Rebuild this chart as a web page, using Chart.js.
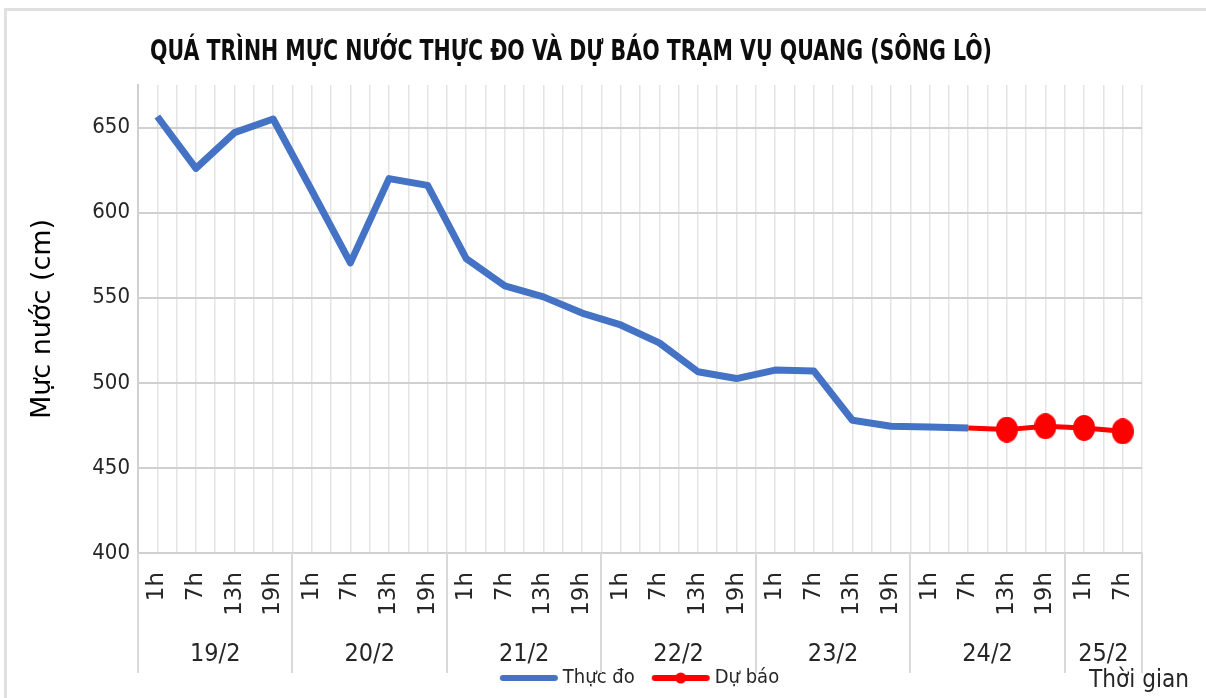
<!DOCTYPE html>
<html>
<head>
<meta charset="utf-8">
<script src="https://cdn.jsdelivr.net/npm/chart.js@4"></script>
<style>
  html, body { margin: 0; padding: 0; background: #fff; }
  canvas { display: block; }
</style>
</head>
<body>
<canvas id="mucNuocChart" width="1206" height="698"></canvas>
<script>
// nhan gio tren truc hoanh
var hourLabels = [
    '1h', '7h', '13h', '19h',
    '1h', '7h', '13h', '19h',
    '1h', '7h', '13h', '19h',
    '1h', '7h', '13h', '19h',
    '1h', '7h', '13h', '19h',
    '1h', '7h', '13h', '19h',
    '1h', '7h'
];
var dateLabels = ['19/2', '20/2', '21/2', '22/2', '23/2', '24/2', '25/2'];
var dateCounts = [4, 4, 4, 4, 4, 4, 2];

// muc nuoc thuc do (cm)
var thucDo = [656.5, 626, 647, 655, 613, 570.5, 620, 616, 573, 557, 550.5, 541,
              534, 523.5, 506.5, 502.5, 507.5, 507, 478, 474.5, 474, 473.5];
// muc nuoc du bao (cm), bat dau tu 7h 24/2
var duBao = [473.5, 472.5, 474.5, 473.5, 471.5];
var duBaoStart = 21;

var narrow = '"Liberation Sans Narrow", "DejaVu Sans Condensed", sans-serif';
var textColor = '#262626';

var thucDoData = hourLabels.map(function (_, i) { return i < thucDo.length ? thucDo[i] : null; });
var duBaoData = hourLabels.map(function (_, i) {
    return i >= duBaoStart && i - duBaoStart < duBao.length ? duBao[i - duBaoStart] : null;
});

function legendIcon(color, dot) {
    var c = document.createElement('canvas');
    c.width = 60; c.height = 14;
    var g = c.getContext('2d');
    g.strokeStyle = color; g.lineWidth = 6; g.lineCap = 'round';
    g.beginPath(); g.moveTo(4, 7); g.lineTo(56, 7); g.stroke();
    if (dot) {
        g.fillStyle = color;
        g.beginPath(); g.arc(30, 7, 5.5, 0, Math.PI * 2); g.fill();
    }
    return c;
}
var icons = [legendIcon('#4472C4', false), legendIcon('#FF0000', true)];

// diem du bao hinh elip
var marker = document.createElement('canvas');
marker.width = 22; marker.height = 26;
(function () {
    var g = marker.getContext('2d');
    g.fillStyle = '#FF0000';
    g.beginPath(); g.ellipse(11, 13, 11, 13, 0, 0, Math.PI * 2); g.fill();
})();

var decorPlugin = {
    id: 'decor',
    beforeDraw: function (chart) {
        var ctx = chart.ctx;
        ctx.save();
        ctx.fillStyle = '#fff';
        ctx.fillRect(0, 0, chart.width, chart.height);
        ctx.restore();
    },
    afterLayout: function (chart) {
        chart.legend.left += 71;
        chart.legend.right += 71;
    },
    afterDraw: function (chart) {
        var ctx = chart.ctx, x = chart.scales.x, a = chart.chartArea;
        ctx.save();
        // khung
        ctx.fillStyle = '#e0e0e0';
        ctx.fillRect(4, 8, chart.width - 4, 3);
        ctx.fillRect(4, 8, 3, chart.height - 8);

        // tieu de
        ctx.fillStyle = '#0d0d0d';
        ctx.font = 'bold 29px ' + narrow;
        ctx.textAlign = 'center';
        ctx.textBaseline = 'alphabetic';
        ctx.fillText('QUÁ TRÌNH MỰC NƯỚC THỰC ĐO VÀ DỰ BÁO TRẠM VỤ QUANG (SÔNG LÔ)', 571, 60, 842);

        // vach chia ngay va nhan ngay
        var edges = [x.left];
        var idx = 0;
        dateCounts.forEach(function (n, k) {
            idx += n;
            if (k === dateCounts.length - 1) edges.push(x.right);
            else edges.push((x.getPixelForValue(idx - 1) + x.getPixelForValue(idx)) / 2);
        });
        ctx.strokeStyle = '#d9d9d9';
        ctx.lineWidth = 2;
        edges.forEach(function (px) {
            ctx.beginPath();
            ctx.moveTo(Math.round(px), a.bottom);
            ctx.lineTo(Math.round(px), 673);
            ctx.stroke();
        });
        ctx.fillStyle = textColor;
        ctx.font = '25px ' + narrow;
        ctx.textBaseline = 'middle';
        dateLabels.forEach(function (d, k) {
            ctx.fillText(d, (edges[k] + edges[k + 1]) / 2, 654);
        });

        // ten truc hoanh
        ctx.font = '25px ' + narrow;
        ctx.textAlign = 'left';
        ctx.textBaseline = 'alphabetic';
        ctx.fillText('Thời gian', 1089, 687, 100);
        ctx.restore();
    }
};

var ctx = document.getElementById('mucNuocChart').getContext('2d');
var mucNuocChart = new Chart(ctx, {
    type: 'line',
    data: {
        labels: hourLabels,
        datasets: [{
            label: 'Thực đo',
            data: thucDoData,
            borderColor: '#4472C4',
            backgroundColor: '#4472C4',
            borderWidth: 7,
            pointRadius: 0,
            tension: 0,
            borderJoinStyle: 'round'
        }, {
            label: 'Dự báo',
            data: duBaoData,
            borderColor: '#FF0000',
            backgroundColor: '#FF0000',
            borderWidth: 5,
            pointStyle: marker,
            pointRadius: function (c) { return c.dataIndex === duBaoStart ? 0 : 11; },
            pointBorderWidth: 0,
            tension: 0
        }]
    },
    options: {
        responsive: false,
        animation: false,
        layout: { padding: { top: 85, right: 64, left: 0, bottom: 0 } },
        scales: {
            x: {
                type: 'category',
                offset: true,
                grid: { offset: true, drawTicks: false, color: '#e4e4e4', lineWidth: 1.5 },
                border: { color: '#d0d0d0', width: 2 },
                ticks: {
                    autoSkip: false,
                    minRotation: 90,
                    maxRotation: 90,
                    padding: 19,
                    color: textColor,
                    font: { family: '"DejaVu Sans", sans-serif', size: 23 }
                },
                afterFit: function (s) { s.height = 93; }
            },
            x2: {
                type: 'category',
                position: 'bottom',
                offset: true,
                grid: { offset: false, drawTicks: false, color: '#e4e4e4', lineWidth: 1.5 },
                border: { display: false },
                ticks: { display: false },
                afterFit: function (s) { s.height = 0; }
            },
            y: {
                min: 400,
                max: 675,
                ticks: {
                    stepSize: 50,
                    padding: 8,
                    color: textColor,
                    font: { family: narrow, size: 22 },
                    callback: function (v) { return v % 50 === 0 ? v : ''; }
                },
                grid: {
                    drawTicks: false,
                    lineWidth: 2,
                    color: function (c) {
                        return c.tick && c.tick.value % 50 !== 0 ? 'rgba(0,0,0,0)' : '#d0d0d0';
                    }
                },
                border: { color: '#d0d0d0', width: 2 },
                title: {
                    display: true,
                    text: 'Mực nước (cm)',
                    color: '#000',
                    font: { family: '"DejaVu Sans", sans-serif', size: 27 },
                    padding: { top: 27, bottom: 0 }
                },
                afterFit: function (s) { s.width = 138; }
            }
        },
        plugins: {
            legend: {
                position: 'bottom',
                labels: {
                    usePointStyle: true,
                    pointStyleWidth: 48,
                    padding: 22,
                    color: textColor,
                    font: { family: narrow, size: 20 },
                    generateLabels: function (chart) {
                        var items = Chart.defaults.plugins.legend.labels.generateLabels(chart);
                        items.forEach(function (it, i) { it.pointStyle = icons[i]; });
                        return items;
                    }
                }
            },
            tooltip: { enabled: false }
        }
    },
    plugins: [decorPlugin]
});
</script>
</body>
</html>
